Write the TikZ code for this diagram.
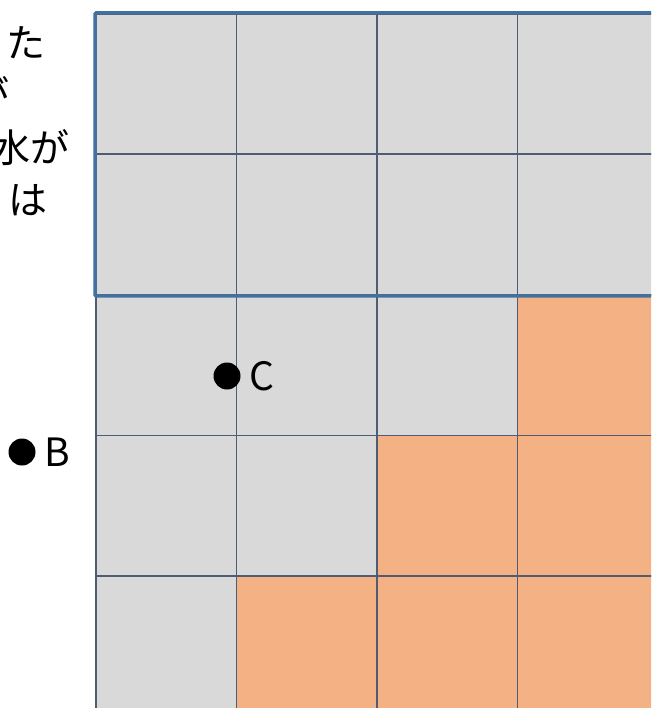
\documentclass[tikz,border=0pt]{standalone}
\usepackage{fontspec}
\setmainfont{Noto Sans CJK JP}
\usepackage{xcolor}
\definecolor{cellgray}{RGB}{217,217,217}
\definecolor{cellorange}{RGB}{244,177,131}
\definecolor{gridline}{RGB}{80,92,115}
\definecolor{frameblue}{RGB}{65,113,156}
\usepackage{tikz}
\usetikzlibrary{positioning}

\tikzset{
  cell/.style={draw=gridline, line width=1.8pt, fill=cellgray, minimum size=140.5pt,
               inner sep=0pt, anchor=north west},
  wet/.style={cell, fill=cellorange},
  spot/.style={circle, fill=black, inner sep=0pt, minimum size=27pt},
  lbl/.style={font=\fontsize{39}{46}\selectfont, inner sep=0pt},
}

\begin{document}
\begin{tikzpicture}[x=1pt,y=-1pt]
\useasboundingbox (0,0) rectangle (651,708);
\clip (0,0) rectangle (651,708);
\fill[white] (0,0) rectangle (651,708);
% grid of cells, wet ones below the diagonal
\foreach \r in {0,...,4}
  \foreach \c in {0,...,3}{
    \pgfmathtruncatemacro{\s}{\r+\c}
    \ifnum\s>4
      \node[wet] (c\r\c) at ({95+140.5*\c},{13+140.5*\r}) {};
    \else
      \node[cell] (c\r\c) at ({95+140.5*\c},{13+140.5*\r}) {};
    \fi
  }
\draw[frameblue, line width=3.5pt, rounded corners=1pt] (c00.north west) rectangle (c13.south east);

% points
\node[spot] (C) at (227,376) {};
\node[lbl, right=9pt of C] (Clbl) {C};
\node[spot] (B) at (22,452) {};
\node[lbl, right=9pt of B] (Blbl) {B};

% text cut off at the left edge
\node[lbl, anchor=east] (t1) at (46,43) {た};
\node[lbl, anchor=east] (t2) at (10,94) {が};
\node[lbl, anchor=east] (t3) at (70,148) {水が};
\node[lbl, anchor=east] (t4) at (48,200) {は};
\end{tikzpicture}
\end{document}
